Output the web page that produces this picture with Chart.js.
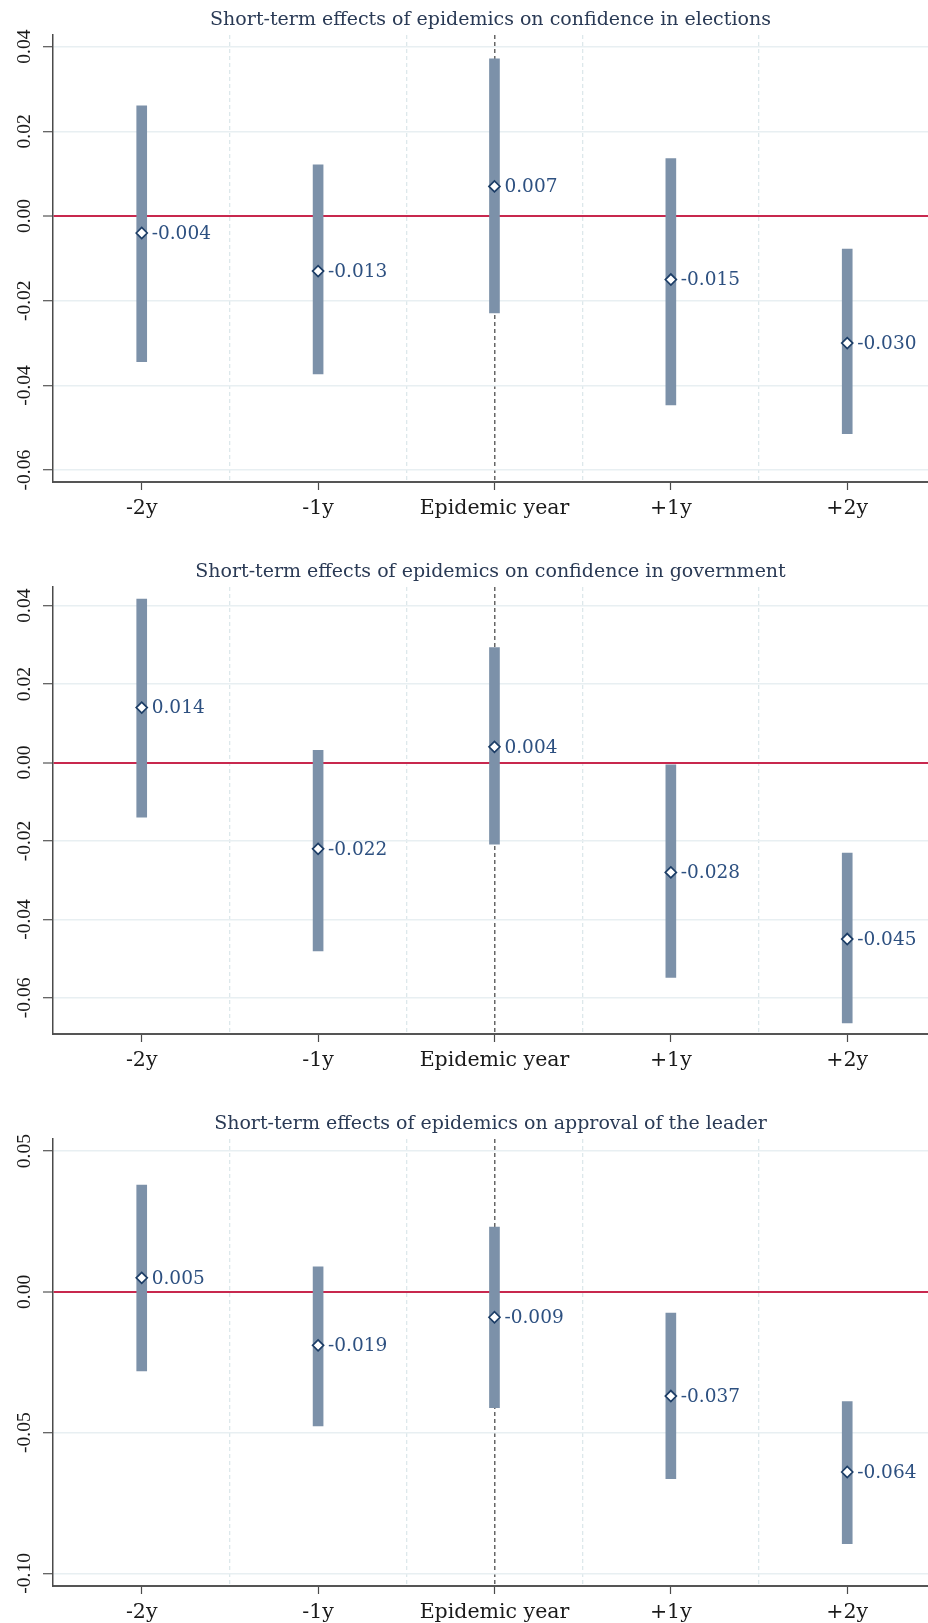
<!DOCTYPE html>
<html>
<head>
<meta charset="utf-8">
<script src="https://cdn.jsdelivr.net/npm/chart.js@4.4.1/dist/chart.umd.min.js"></script>
<style>
  body { margin: 0; background: #fff; }
  .panel { position: absolute; left: 0; width: 928px; height: 519px; }
</style>
</head>
<body>
<div class="panel" style="top:0px"><canvas id="elections" width="928" height="519"></canvas></div>
<div class="panel" style="top:552px"><canvas id="government" width="928" height="519"></canvas></div>
<div class="panel" style="top:1104px"><canvas id="leader" width="928" height="519"></canvas></div>
<script>
const periods = ['-2y', '-1y', 'Epidemic year', '+1y', '+2y'];

const electionsCoef = [-0.004, -0.013, 0.007, -0.015, -0.030];
const electionsLow  = [-0.0344, -0.0373, -0.0229, -0.0446, -0.0514];
const electionsHigh = [0.0260, 0.0121, 0.0371, 0.0136, -0.0078];

const governmentCoef = [0.014, -0.022, 0.004, -0.028, -0.045];
const governmentLow  = [-0.0139, -0.0480, -0.0208, -0.0548, -0.0664];
const governmentHigh = [0.0417, 0.0031, 0.0293, -0.0006, -0.0231];

const leaderCoef = [0.005, -0.019, -0.009, -0.037, -0.064];
const leaderLow  = [-0.0281, -0.0476, -0.0411, -0.0664, -0.0895];
const leaderHigh = [0.0380, 0.0089, 0.0230, -0.0075, -0.0390];

const confTicks = [-0.06, -0.04, -0.02, 0, 0.02, 0.04];
const leaderTicks = [-0.10, -0.05, 0, 0.05];
const dividerTicks = [0.5, 1.5, 2, 2.5, 3.5];

// point estimate labels next to the diamonds
const valueLabels = {
  id: 'valueLabels',
  afterDatasetsDraw(chart) {
    const meta = chart.getDatasetMeta(1);
    const ctx = chart.ctx;
    ctx.save();
    ctx.font = '18.5px "DejaVu Serif"';
    ctx.fillStyle = '#2d5080';
    ctx.textBaseline = 'middle';
    ctx.textAlign = 'left';
    meta.data.forEach((pt, i) => {
      ctx.fillText(chart.data.datasets[1].data[i].y.toFixed(3), pt.x + 10, pt.y + 1);
    });
    ctx.restore();
  }
};

function makePanel(id, title, coef, low, high, yMin, yMax, yTicks) {
  const ctx = document.getElementById(id).getContext('2d');
  return new Chart(ctx, {
    type: 'bar',
    data: {
      datasets: [{
        type: 'bar',
        data: periods.map((p, i) => ({ x: i, y: [low[i], high[i]] })),
        backgroundColor: '#7c91a9',
        barThickness: 10,
        xAxisID: 'x',
        order: 2
      }, {
        type: 'line',
        data: periods.map((p, i) => ({ x: i, y: coef[i] })),
        showLine: false,
        pointStyle: 'rectRot',
        pointRadius: 5.5,
        pointBackgroundColor: '#ffffff',
        pointBorderColor: '#1c3d66',
        pointBorderWidth: 1.7,
        xAxisID: 'x',
        order: 1
      }]
    },
    options: {
      responsive: false,
      animation: false,
      layout: { padding: 0, autoPadding: false },
      plugins: {
        legend: { display: false },
        tooltip: { enabled: false },
        title: {
          display: true,
          text: title,
          fullSize: false,
          color: '#2a3a55',
          font: { family: 'DejaVu Serif', size: 19, weight: 'normal' },
          lineHeight: 1.1,
          padding: { top: 9, bottom: 3 }
        }
      },
      scales: {
        x: {
          type: 'linear',
          position: 'bottom',
          min: -0.503,
          max: 4.458,
          offset: false,
          afterBuildTicks: (s) => { s.ticks = periods.map((p, i) => ({ value: i })); },
          afterFit: (s) => { s.height = 37; },
          ticks: {
            callback: (v) => periods[v],
            color: '#1a1a1a',
            font: { family: 'DejaVu Serif', size: 20.5 },
            padding: 6,
            maxRotation: 0,
            autoSkip: false
          },
          grid: { offset: false, drawOnChartArea: false, drawTicks: true, tickLength: 8, tickColor: '#4a4a4a', tickWidth: 1.2 },
          border: { display: true, color: '#555555', width: 2 }
        },
        x2: {
          type: 'linear',
          position: 'top',
          min: -0.503,
          max: 4.458,
          offset: false,
          afterBuildTicks: (s) => { s.ticks = dividerTicks.map(v => ({ value: v })); },
          afterFit: (s) => { s.height = 0; },
          ticks: { display: false },
          grid: {
            offset: false,
            drawTicks: false,
            color: (c) => (c.tick && c.tick.value === 2) ? '#666666' : '#dde8eb',
            lineWidth: (c) => (c.tick && c.tick.value === 2) ? 1.5 : 1.3
          },
          border: { display: false, dash: [4, 3] }
        },
        y: {
          min: yMin,
          max: yMax,
          afterBuildTicks: (s) => { s.ticks = yTicks.map(v => ({ value: v })); },
          afterFit: (s) => { s.width = 53; },
          ticks: {
            callback: (v) => v.toFixed(2),
            minRotation: 90,
            maxRotation: 90,
            crossAlign: 'center',
            padding: -2,
            color: '#1a1a1a',
            font: { family: 'Liberation Serif', size: 19.5 }
          },
          grid: {
            color: (c) => (c.tick && c.tick.value === 0) ? '#c8284e' : '#e8eff2',
            lineWidth: (c) => (c.tick && c.tick.value === 0) ? 2 : 1.5,
            tickLength: 10,
            tickColor: '#333333',
            tickWidth: 1
          },
          border: { display: true, color: '#4a4a4a', width: 1.5 }
        }
      }
    },
    plugins: [valueLabels]
  });
}

makePanel('elections', 'Short-term effects of epidemics on confidence in elections',
  electionsCoef, electionsLow, electionsHigh, -0.0628, 0.0428, confTicks);
makePanel('government', 'Short-term effects of epidemics on confidence in government',
  governmentCoef, governmentLow, governmentHigh, -0.0692, 0.0448, confTicks);
makePanel('leader', 'Short-term effects of epidemics on approval of the leader',
  leaderCoef, leaderLow, leaderHigh, -0.1045, 0.0544, leaderTicks);
</script>
</body>
</html>
